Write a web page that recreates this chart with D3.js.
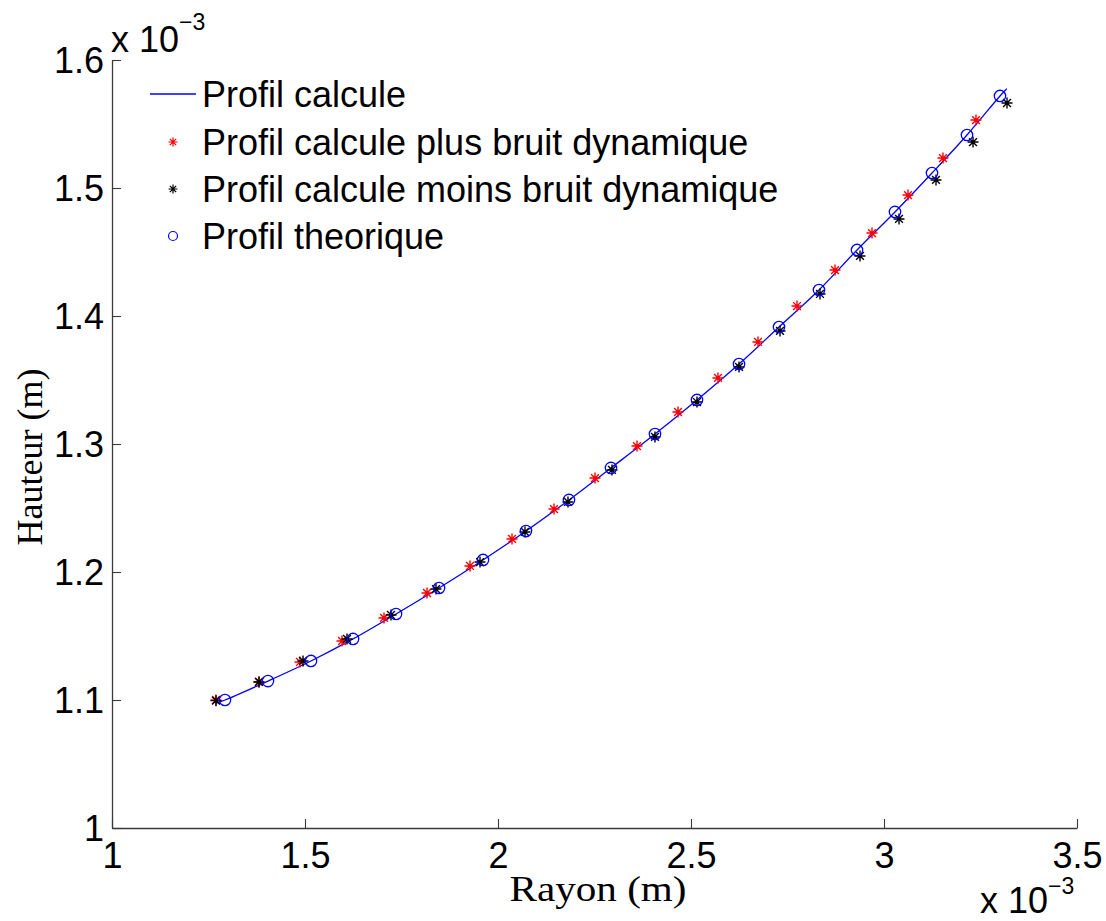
<!DOCTYPE html>
<html><head><meta charset="utf-8">
<script src="https://cdn.jsdelivr.net/npm/d3@7"></script>
<style>html,body{margin:0;padding:0;background:#fff}svg{display:block}</style>
</head><body>
<svg id="chart" width="1106" height="921"></svg>
<script>
// values in units of 1e-3 m
const xTicks = [1, 1.5, 2, 2.5, 3, 3.5];
const yTicks = [1, 1.1, 1.2, 1.3, 1.4, 1.5, 1.6];
const xTickLabels = ["1", "1.5", "2", "2.5", "3", "3.5"];
const yTickLabels = ["1", "1.1", "1.2", "1.3", "1.4", "1.5", "1.6"];

const lineX = [1.269, 1.2927, 1.404, 1.5155, 1.6244, 1.7358, 1.8472, 1.9611, 2.0725, 2.1839, 2.2927, 2.4067, 2.5155, 2.6244, 2.728, 2.8316, 2.9301, 3.0285, 3.1244, 3.215, 3.3005, 3.318];
const lineY = [1.0975, 1.1, 1.1148, 1.1305, 1.1477, 1.1672, 1.1875, 1.2094, 1.232, 1.2563, 1.2813, 1.3078, 1.3344, 1.3625, 1.3914, 1.4203, 1.4516, 1.4813, 1.5117, 1.5414, 1.5719, 1.5775];

const plusX = [1.2694, 1.3808, 1.487, 1.5959, 1.7047, 1.8161, 1.9275, 2.0363, 2.1451, 2.2513, 2.3601, 2.4663, 2.5699, 2.6736, 2.7746, 2.8731, 2.9689, 3.0622, 3.1528, 3.2383];
const plusY = [1.1, 1.1141, 1.1297, 1.1461, 1.1641, 1.1836, 1.2047, 1.2258, 1.2492, 1.2734, 1.2984, 1.325, 1.3516, 1.3797, 1.4078, 1.4359, 1.4648, 1.4945, 1.5234, 1.5531];

const minusX = [1.2694, 1.3808, 1.4948, 1.6088, 1.7228, 1.8394, 1.9534, 2.0699, 2.1813, 2.2953, 2.4067, 2.5155, 2.6244, 2.7306, 2.8342, 2.9378, 3.0389, 3.1347, 3.2306, 3.3187];
const minusY = [1.0995, 1.1141, 1.1305, 1.1477, 1.1664, 1.1867, 1.2078, 1.2313, 1.2547, 1.2797, 1.3055, 1.3328, 1.3602, 1.3883, 1.4172, 1.4469, 1.4758, 1.5063, 1.5359, 1.5664];

const theoX = [1.2927, 1.404, 1.5155, 1.6244, 1.7358, 1.8472, 1.9611, 2.0725, 2.1839, 2.2927, 2.4067, 2.5155, 2.6244, 2.728, 2.8316, 2.9301, 3.0285, 3.1244, 3.215, 3.3005];
const theoY = [1.1, 1.1148, 1.1305, 1.1477, 1.1672, 1.1875, 1.2094, 1.232, 1.2563, 1.2813, 1.3078, 1.3344, 1.3625, 1.3914, 1.4203, 1.4516, 1.4813, 1.5117, 1.5414, 1.5719];

const legendLabels = ["Profil calcule", "Profil calcule plus bruit dynamique", "Profil calcule moins bruit dynamique", "Profil theorique"];

const svg = d3.select("#chart");
const L = 112, R = 1077, T = 60, B = 828;
const x = d3.scaleLinear().domain([1, 3.5]).range([L, R]);
const y = d3.scaleLinear().domain([1, 1.6]).range([B, T]);
const sans = "'Liberation Sans', Arial, Helvetica, sans-serif";
const serif = "'Liberation Serif', 'DejaVu Serif', serif";
const axisColor = "#3a3a3a";
const FS = 36;

// axes
const xAxis = svg.append("g").attr("transform", `translate(0,${B})`)
  .call(d3.axisBottom(x).tickValues(xTicks).tickSizeInner(-9).tickSizeOuter(0).tickPadding(0).tickFormat((d,i)=>xTickLabels[i]));
xAxis.select(".domain").attr("stroke", axisColor).attr("stroke-width", 1.3);
xAxis.selectAll(".tick line").attr("stroke", axisColor).attr("stroke-width", 1.1);
xAxis.selectAll(".tick text").attr("font-family", sans).attr("font-size", FS).attr("fill", "#000").attr("y", 40).attr("dy", 0);

const yAxis = svg.append("g").attr("transform", `translate(${L},0)`)
  .call(d3.axisLeft(y).tickValues(yTicks).tickSizeInner(-9).tickSizeOuter(0).tickPadding(0).tickFormat((d,i)=>yTickLabels[i]));
yAxis.select(".domain").attr("stroke", axisColor).attr("stroke-width", 1.3);
yAxis.selectAll(".tick text").attr("font-family", sans).attr("font-size", FS).attr("fill", "#000").attr("x", -8).attr("dy", "0.36em");
yAxis.selectAll(".tick line").attr("stroke", axisColor).attr("stroke-width", 1.1);

// exponent labels
function expo(xp, yb, dyUp) {
  const t = svg.append("text").attr("x", xp).attr("y", yb).attr("font-family", sans).attr("font-size", FS).attr("fill", "#000");
  t.append("tspan").text("x 10");
  t.append("tspan").attr("dy", -dyUp).attr("font-size", 23).text("\u22123");
}
expo(111, 52, 22);
expo(980, 913, 19);

// axis titles
svg.append("text").attr("x", 598).attr("y", 901).attr("text-anchor", "middle")
  .attr("font-family", serif).attr("font-size", 35).attr("fill", "#000")
  .attr("textLength", 177).attr("lengthAdjust", "spacingAndGlyphs").text("Rayon (m)");
svg.append("text").attr("transform", "translate(42,457) rotate(-90)").attr("text-anchor", "middle")
  .attr("font-family", serif).attr("font-size", 35).attr("fill", "#000")
  .attr("textLength", 177).attr("lengthAdjust", "spacingAndGlyphs").text("Hauteur (m)");

// star marker path
function starPath(r) {
  const d = r * Math.SQRT1_2;
  return `M${-r},0L${r},0M0,${-r}L0,${r}M${-d},${-d}L${d},${d}M${-d},${d}L${d},${-d}`;
}

const plot = svg.append("g");
const lineData = lineX.map((v,i)=>[v, lineY[i]]);
plot.append("path").datum(lineData)
  .attr("d", d3.line().x(d=>x(d[0])).y(d=>y(d[1])).curve(d3.curveCatmullRom))
  .attr("fill", "none").attr("stroke", "#0000ff").attr("stroke-width", 1.3);

plot.selectAll(".plus").data(plusX.map((v,i)=>[v, plusY[i]])).enter().append("path")
  .attr("transform", d=>`translate(${x(d[0])},${y(d[1])})`)
  .attr("d", starPath(5.5)).attr("stroke", "#ff0000").attr("stroke-width", 1.4).attr("fill", "none");

plot.selectAll(".minus").data(minusX.map((v,i)=>[v, minusY[i]])).enter().append("path")
  .attr("transform", d=>`translate(${x(d[0])},${y(d[1])})`)
  .attr("d", starPath(5.5)).attr("stroke", "#000").attr("stroke-width", 1.4).attr("fill", "none");

plot.selectAll(".theo").data(theoX.map((v,i)=>[v, theoY[i]])).enter().append("circle")
  .attr("cx", d=>x(d[0])).attr("cy", d=>y(d[1])).attr("r", 5.7)
  .attr("fill", "none").attr("stroke", "#0000ff").attr("stroke-width", 1.3);

// legend
const lg = svg.append("g");
const rowY = [94, 142, 189, 236];
lg.append("line").attr("x1", 150).attr("x2", 196).attr("y1", rowY[0]).attr("y2", rowY[0]).attr("stroke", "#0000ff").attr("stroke-width", 1.3);
lg.append("path").attr("transform", `translate(173,${rowY[1]})`).attr("d", starPath(4.5)).attr("stroke", "#ff0000").attr("stroke-width", 1.2);
lg.append("path").attr("transform", `translate(173,${rowY[2]})`).attr("d", starPath(4.5)).attr("stroke", "#000").attr("stroke-width", 1.2);
lg.append("circle").attr("cx", 173).attr("cy", rowY[3]).attr("r", 4.5).attr("fill", "none").attr("stroke", "#0000ff").attr("stroke-width", 1.2);
legendLabels.forEach((s,i)=>{
  lg.append("text").attr("x", 202).attr("y", rowY[i]).attr("dy", "0.36em")
    .attr("font-family", sans).attr("font-size", FS).attr("fill", "#000").text(s);
});
</script>
</body></html>
